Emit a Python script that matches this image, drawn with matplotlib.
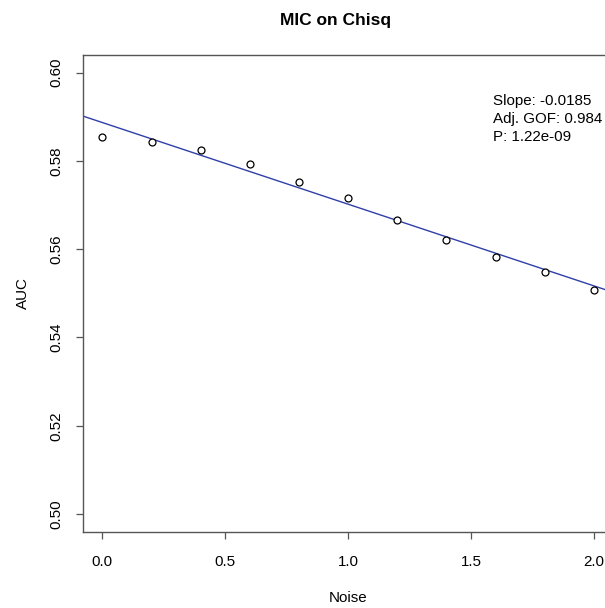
import matplotlib
matplotlib.use("Agg")
import matplotlib.pyplot as plt
import numpy as np

plt.rcParams['font.family'] = ['Liberation Sans', 'DejaVu Sans']

noise = [0.0, 0.2, 0.4, 0.6, 0.8, 1.0, 1.2, 1.4, 1.6, 1.8, 2.0]
auc = [0.5855, 0.5844, 0.5825, 0.5794, 0.5752, 0.5716, 0.5667, 0.5621, 0.5582, 0.5548, 0.5508]
fit_intercept = 0.5887
fit_slope = -0.0185
x_ticks = [0.0, 0.5, 1.0, 1.5, 2.0]
x_tick_labels = ["0.0", "0.5", "1.0", "1.5", "2.0"]
y_ticks = [0.50, 0.52, 0.54, 0.56, 0.58, 0.60]
y_tick_labels = ["0.50", "0.52", "0.54", "0.56", "0.58", "0.60"]
annotation = ["Slope: -0.0185", "Adj. GOF: 0.984", "P: 1.22e-09"]

W, H = 605, 608
fig = plt.figure(figsize=(W / 100, H / 100), dpi=100)
left, right, top, bottom = 82.7, 613.5, 55.0, 531.7
ax = fig.add_axes([left / W, 1 - bottom / H, (right - left) / W, (bottom - top) / H])

ax.plot(noise, auc, linestyle='none', marker='o', markersize=5.0,
        markerfacecolor='white', markeredgecolor='black', markeredgewidth=0.9, zorder=3)
ax.axline((0, fit_intercept), slope=fit_slope, color='#2f3fa8', linewidth=1.0, zorder=2)

ax.set_xlim(-0.08, 2.08)
ax.set_ylim(0.496, 0.604)
ax.set_xticks(x_ticks)
ax.set_xticklabels(x_tick_labels)
ax.set_yticks(y_ticks)
ax.set_yticklabels(y_tick_labels, rotation=90, va='center')

for s in ax.spines.values():
    s.set_color('#555555')
    s.set_linewidth(1.0)
ax.tick_params(axis='both', direction='out', length=5, width=0.9, color='#555555',
               labelsize=10.9, labelcolor='black')
ax.tick_params(axis='x', pad=11.5)
ax.tick_params(axis='y', pad=9)

fig.text(348 / W, 1 - 598 / H, "Noise", ha='center', va='center', fontsize=10.9)
fig.text(23 / W, 1 - 293 / H, "AUC", ha='center', va='center', fontsize=10.9, rotation=90)
fig.text(336 / W, 1 - 20 / H, "MIC on Chisq", ha='center', va='center', fontsize=12.5, fontweight='bold')

for i, line in enumerate(annotation):
    ax.text(492.7 / W, 1 - (101 + 18 * i) / H, line, transform=fig.transFigure,
            ha='left', va='center', fontsize=10.9)

fig.savefig("out.png", dpi=100)
